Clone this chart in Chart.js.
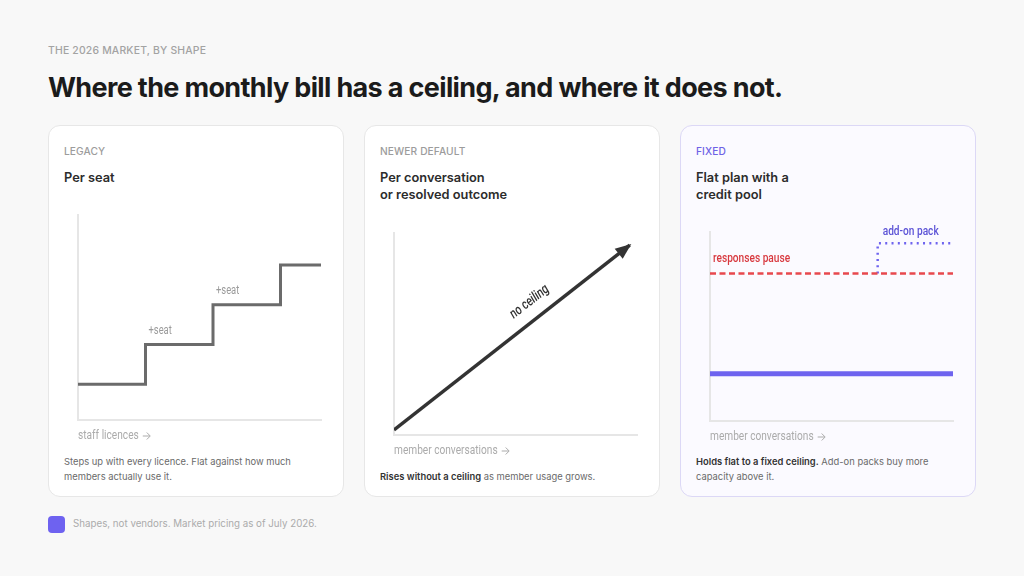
<!DOCTYPE html>
<html>
<head>
<meta charset="utf-8">
<script src="https://cdn.jsdelivr.net/npm/chart.js@4"></script>
<style>
body{margin:0;width:1024px;height:576px;background:#f8f8f8;font-family:Inter,'Noto Sans',sans-serif;position:relative;overflow:hidden}
.kicker{position:absolute;left:48px;top:44px;font-size:10.4px;font-weight:500;letter-spacing:.2px;color:#a3a3a3}
h1{position:absolute;left:48px;top:71px;margin:0;font-size:27px;font-weight:700;letter-spacing:-.65px;color:#1b1b1b;white-space:nowrap}
.card{position:absolute;top:125px;width:294px;height:370px;background:#fff;border:1px solid #e7e7e7;border-radius:12px}
.card.fixed{background:#fbfaff;border-color:#dcd8f6}
.eyebrow{position:absolute;left:15px;top:19px;font-size:10.2px;font-weight:500;color:#9c9c9c;letter-spacing:.1px}
.fixed .eyebrow{color:#6e62e6}
.ttl{position:absolute;left:15px;top:43px;font-size:12.8px;font-weight:600;color:#2c2c2c;line-height:17px}
.desc{position:absolute;left:15px;bottom:12px;width:250px;font-size:9.4px;line-height:14.5px;color:#6a6a6a}
.desc b{color:#333;font-weight:600}
.chartbox{position:absolute}
.foot{position:absolute;left:48px;top:516px;width:17px;height:17px;border-radius:4px;background:#6e62f0}
.foottxt{position:absolute;left:73px;top:518px;font-size:9.75px;color:#ababab}
</style>
</head>
<body>
<div class="kicker">THE 2026 MARKET, BY SHAPE</div>
<h1>Where the monthly bill has a ceiling, and where it does not.</h1>

<div class="card" style="left:48px">
  <div class="eyebrow">LEGACY</div>
  <div class="ttl">Per seat</div>
  <div class="desc">Steps up with every licence. Flat against how much members actually use it.</div>
</div>
<div class="card" style="left:364px">
  <div class="eyebrow">NEWER DEFAULT</div>
  <div class="ttl">Per conversation<br>or resolved outcome</div>
  <div class="desc"><b>Rises without a ceiling</b> as member usage grows.</div>
</div>
<div class="card fixed" style="left:680px">
  <div class="eyebrow">FIXED</div>
  <div class="ttl">Flat plan with a<br>credit pool</div>
  <div class="desc"><b>Holds flat to a fixed ceiling.</b> Add-on packs buy more capacity above it.</div>
</div>

<div class="chartbox" style="left:70px;top:205px;width:265px;height:240px"><canvas id="seatChart"></canvas></div>
<div class="chartbox" style="left:386px;top:223px;width:265px;height:237px"><canvas id="convChart"></canvas></div>
<div class="chartbox" style="left:702px;top:222px;width:265px;height:224px"><canvas id="poolChart"></canvas></div>

<div class="foot"></div>
<div class="foottxt">Shapes, not vendors. Market pricing as of July 2026.</div>

<script>
// Per seat: bill steps up with each staff licence
const seatLicences = [0, 1, 2, 3, 3.6];
const seatBill = [1, 2, 3, 4, 4];
const seatNotes = ['+seat', '+seat'];
const seatNoteAt = [1, 2];

// Per conversation: straight rise, no cap
const convVolume = [0, 97];
const convBill = [2.5, 94];
const convNote = 'no ceiling';

// Flat plan with a credit pool
const poolVolume = [0, 100];
const planBill = [25, 25];
const ceilingBill = [78, 78];
const addonVolume = [69, 69, 99];
const addonBill = [78, 94, 94];
const poolNotes = ['responses pause', 'add-on pack'];

const axisCaptions = ['staff licences', 'member conversations', 'member conversations'];

const axisGrey = '#e6e6e6';
const narrow = "Roboto,'Noto Sans',sans-serif";
const squeeze = 0.78;
const red = '#e8484e';
const purple = '#6e63ef';

function pts(xs, ys) {
    return xs.map((x, i) => ({ x: x, y: ys[i] }));
}

function axes(xMax, yMin, yMax) {
    return {
        x: {
            type: 'linear', min: 0, max: xMax,
            grid: { display: false, drawTicks: false },
            ticks: { display: false },
            border: { color: axisGrey, width: 2 }
        },
        y: {
            type: 'linear', min: yMin, max: yMax,
            grid: { display: false, drawTicks: false },
            ticks: { display: false },
            border: { color: axisGrey, width: 2 }
        }
    };
}

// squeezed label, like the condensed type in the original
function note(ctx, text, x, y, color, font, align) {
    ctx.save();
    ctx.translate(x, y);
    ctx.scale(squeeze, 1);
    ctx.fillStyle = color;
    ctx.font = font;
    ctx.textAlign = align || 'left';
    ctx.textBaseline = 'middle';
    ctx.fillText(text, 0, 0);
    const w = ctx.measureText(text).width;
    ctx.restore();
    return w * squeeze;
}

function baseOptions(scales) {
    return {
        responsive: true,
        maintainAspectRatio: false,
        animation: false,
        layout: { padding: { left: 8, right: 14, top: 10, bottom: 25 } },
        plugins: { legend: { display: false }, tooltip: { enabled: false } },
        elements: { point: { radius: 0 } },
        scales: scales
    };
}

// axis caption with a drawn arrow after it
const captionPlugin = {
    id: 'caption',
    afterDraw(chart) {
        const ctx = chart.ctx;
        const i = Number(chart.canvas.dataset.idx);
        const area = chart.chartArea;
        const cy = area.bottom + 15.5;
        const w = note(ctx, axisCaptions[i], area.left, cy, '#ababab', '13px ' + narrow);
        const ax = area.left + w + 4;
        ctx.save();
        ctx.strokeStyle = '#ababab';
        ctx.lineWidth = 1;
        ctx.beginPath();
        ctx.moveTo(ax, cy + 0.5);
        ctx.lineTo(ax + 7, cy + 0.5);
        ctx.moveTo(ax + 4, cy - 3);
        ctx.lineTo(ax + 7.5, cy + 0.5);
        ctx.lineTo(ax + 4, cy + 4);
        ctx.stroke();
        ctx.restore();
    }
};

// chart 1: per seat
const seatCanvas = document.getElementById('seatChart');
seatCanvas.dataset.idx = 0;
new Chart(seatCanvas, {
    type: 'line',
    data: {
        datasets: [{
            data: pts(seatLicences, seatBill),
            borderColor: '#6b6b6b',
            borderWidth: 3,
            stepped: 'before',
            borderJoinStyle: 'miter'
        }]
    },
    options: baseOptions(axes(3.6, 0.1, 5.26)),
    plugins: [captionPlugin, {
        id: 'seatNotes',
        afterDatasetsDraw(chart) {
            const { ctx, scales: { x, y } } = chart;
            seatNoteAt.forEach((at, i) => {
                note(ctx, seatNotes[i], x.getPixelForValue(at) + 3, y.getPixelForValue(seatBill[at]) - 14,
                    '#9a9a9a', '12px ' + narrow);
            });
        }
    }]
});

// chart 2: per conversation
const convCanvas = document.getElementById('convChart');
convCanvas.dataset.idx = 1;
new Chart(convCanvas, {
    type: 'line',
    data: {
        datasets: [{
            data: pts(convVolume, convBill),
            borderColor: '#333333',
            borderWidth: 3.5
        }]
    },
    options: baseOptions(axes(100, 0, 100)),
    plugins: [captionPlugin, {
        id: 'arrowHead',
        afterDatasetsDraw(chart) {
            const { ctx } = chart;
            const p = chart.getDatasetMeta(0).data;
            const a = p[p.length - 2], b = p[p.length - 1];
            const ang = Math.atan2(b.y - a.y, b.x - a.x);
            ctx.save();
            ctx.translate(b.x, b.y);
            ctx.rotate(ang);
            ctx.fillStyle = '#333333';
            ctx.beginPath();
            ctx.moveTo(2, 0);
            ctx.lineTo(-14, -6.5);
            ctx.lineTo(-14, 6.5);
            ctx.closePath();
            ctx.fill();
            ctx.restore();

            // label along the line
            const t = 0.62;
            const mx = a.x + (b.x - a.x) * t, my = a.y + (b.y - a.y) * t;
            const off = 17;
            ctx.save();
            ctx.translate(mx + Math.sin(ang) * off, my - Math.cos(ang) * off);
            ctx.rotate(ang);
            note(ctx, convNote, 0, 0, '#333333', 'italic 500 14px ' + narrow, 'center');
            ctx.restore();
        }
    }]
});

// chart 3: flat plan with credit pool
const poolCanvas = document.getElementById('poolChart');
poolCanvas.dataset.idx = 2;
new Chart(poolCanvas, {
    type: 'line',
    data: {
        datasets: [
            { data: pts(poolVolume, planBill), borderColor: purple, borderWidth: 5 },
            { data: pts(poolVolume, ceilingBill), borderColor: red, borderWidth: 2.5, borderDash: [6, 3.5] },
            { data: pts(addonVolume, addonBill), borderColor: purple, borderWidth: 2.5, borderDash: [2, 4.3] }
        ]
    },
    options: baseOptions(axes(100, 0, 100)),
    plugins: [captionPlugin, {
        id: 'poolNotes',
        afterDatasetsDraw(chart) {
            const { ctx, scales: { x, y } } = chart;
            note(ctx, poolNotes[0], x.getPixelForValue(poolVolume[0]) + 3, y.getPixelForValue(ceilingBill[0]) - 15,
                '#d8393f', '500 13px ' + narrow);
            note(ctx, poolNotes[1], x.getPixelForValue(addonVolume[1]) + 5, y.getPixelForValue(addonBill[1]) - 12,
                '#5b52d6', '500 13px ' + narrow);
        }
    }]
});
</script>
</body>
</html>
